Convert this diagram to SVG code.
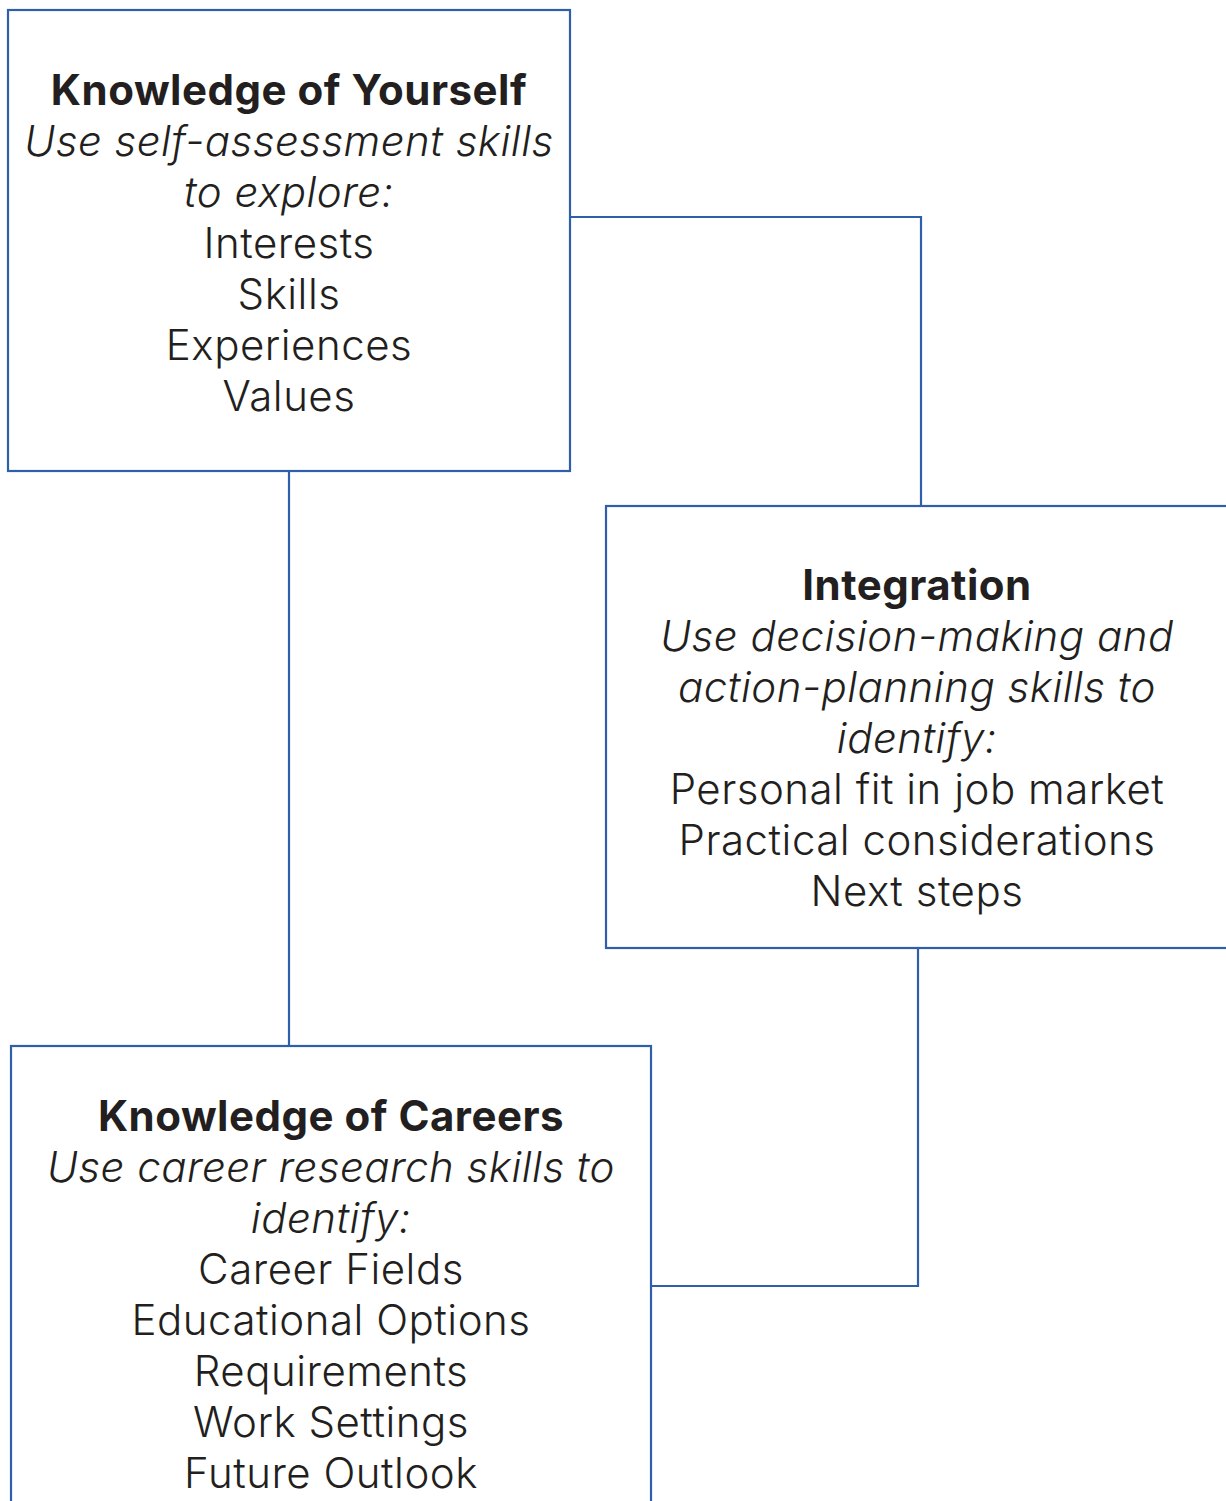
<svg xmlns="http://www.w3.org/2000/svg" width="1226" height="1501" viewBox="0 0 1226 1501">
<style>
.box{fill:#fff;stroke:#2f5fa8;stroke-width:2.2}
.conn{fill:none;stroke:#2f5fa8;stroke-width:2.2}
text{font-family:Inter,"Noto Sans",sans-serif;font-size:42px;font-weight:300;fill:#231f20;text-anchor:middle;letter-spacing:0.5px}
.t{font-weight:bold;letter-spacing:0.5px}
.i{font-style:italic}
</style>
<rect width="1226" height="1501" fill="#fff"/>
<g id="connectors">
<polyline class="conn" points="567,217 921,217 921,506"/>
<line class="conn" x1="289" y1="471" x2="289" y2="1046"/>
<polyline class="conn" points="918,948 918,1286 651,1286"/>
</g>
<g id="self">
<rect class="box" x="8" y="10" width="562" height="461"/>
<text x="289" y="105" class="t">Knowledge of Yourself</text>
<text x="289" y="156" class="i">Use self-assessment skills</text>
<text x="289" y="207" class="i">to explore:</text>
<text x="289" y="258">Interests</text>
<text x="289" y="309">Skills</text>
<text x="289" y="360">Experiences</text>
<text x="289" y="411">Values</text>
</g>
<g id="integration">
<rect class="box" x="606" y="506" width="640" height="442"/>
<text x="917" y="600" class="t">Integration</text>
<text x="917" y="651" class="i">Use decision-making and</text>
<text x="917" y="702" class="i">action-planning skills to</text>
<text x="917" y="753" class="i">identify:</text>
<text x="917" y="804">Personal fit in job market</text>
<text x="917" y="855">Practical considerations</text>
<text x="917" y="906">Next steps</text>
</g>
<g id="careers">
<rect class="box" x="11" y="1046" width="640" height="480"/>
<text x="331" y="1131" class="t">Knowledge of Careers</text>
<text x="331" y="1182" class="i">Use career research skills to</text>
<text x="331" y="1233" class="i">identify:</text>
<text x="331" y="1284">Career Fields</text>
<text x="331" y="1335">Educational Options</text>
<text x="331" y="1386">Requirements</text>
<text x="331" y="1437">Work Settings</text>
<text x="331" y="1488">Future Outlook</text>
</g>
</svg>
